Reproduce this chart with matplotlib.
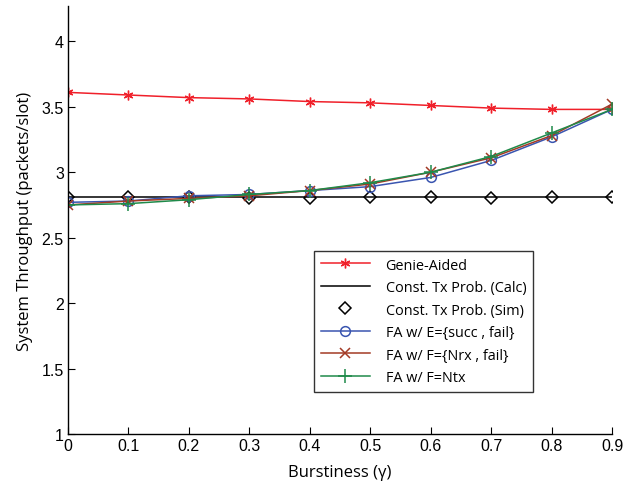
import matplotlib
matplotlib.use("Agg")
import matplotlib.pyplot as plt

gamma = [0, 0.1, 0.2, 0.3, 0.4, 0.5, 0.6, 0.7, 0.8, 0.9]
genie = [3.61, 3.59, 3.57, 3.56, 3.54, 3.53, 3.51, 3.49, 3.48, 3.48]
const_calc = [2.81, 2.81, 2.81, 2.81, 2.81, 2.81, 2.81, 2.81, 2.81, 2.81]
const_sim = [2.81, 2.81, 2.81, 2.80, 2.80, 2.81, 2.81, 2.80, 2.81, 2.81]
fa_succ_fail = [2.77, 2.78, 2.82, 2.83, 2.86, 2.89, 2.96, 3.09, 3.27, 3.48]
fa_nrx_fail = [2.75, 2.78, 2.80, 2.82, 2.86, 2.91, 3.00, 3.11, 3.28, 3.52]
fa_ntx = [2.75, 2.76, 2.79, 2.83, 2.86, 2.92, 3.00, 3.12, 3.30, 3.48]

labels = ["Genie-Aided", "Const. Tx Prob. (Calc)", "Const. Tx Prob. (Sim)",
          "FA w/ E={succ , fail}", "FA w/ F={Nrx , fail}", "FA w/ F=Ntx"]
yticks = [1, 1.5, 2, 2.5, 3, 3.5, 4]
ytick_labels = ["1", "1.5", "2", "2.5", "3", "3.5", "4"]
xtick_labels = ["0", "0.1", "0.2", "0.3", "0.4", "0.5", "0.6", "0.7", "0.8", "0.9"]

label_font = "Open Sans"
tick_font = "Liberation Sans"

W, H = 623, 489
fig = plt.figure(figsize=(W / 100, H / 100), dpi=100)
ax = fig.add_axes([68 / W, 1 - 435 / H, 544 / W, 428 / H])

red = "#f0202a"
blue = "#3a55b0"
brown = "#a33a25"
green = "#1f8a4a"

ax.plot(gamma, genie, color=red, marker=(6, 2, 0), markersize=7, lw=1.1, label=labels[0])
ax.plot(gamma, const_calc, color="black", lw=1.1, label=labels[1])
ax.plot(gamma, const_sim, ls="none", marker="D", markersize=6, mfc="none",
        mec="black", mew=1.1, label=labels[2])
ax.plot(gamma, fa_succ_fail, color=blue, marker="o", markersize=7, mfc="none",
        mew=1.1, lw=1.1, label=labels[3])
ax.plot(gamma, fa_nrx_fail, color=brown, marker="x", markersize=7, mew=1.1, lw=1.1,
        label=labels[4])
ax.plot(gamma, fa_ntx, color=green, marker="+", markersize=10, mew=1.1, lw=1.1,
        label=labels[5])

ax.set_xlim(0, 0.9)
ax.set_ylim(1, 4.27)
ax.set_xticks(gamma)
ax.set_xticklabels(xtick_labels, fontfamily=tick_font, fontsize=11.5)
ax.set_yticks(yticks)
ax.set_yticklabels(ytick_labels, fontfamily=tick_font, fontsize=11.5)
ax.tick_params(direction="in", length=5, width=0.8, pad=3)

ax.spines["top"].set_visible(False)
ax.spines["right"].set_visible(False)
ax.spines["left"].set_linewidth(1.0)
ax.spines["bottom"].set_linewidth(1.0)

ax.set_xlabel("Burstiness (\u03b3)", fontfamily=label_font, fontsize=12, labelpad=8)
ax.set_ylabel("System Throughput (packets/slot)", fontfamily=label_font, fontsize=12,
              labelpad=6)

leg = ax.legend(loc="upper left", bbox_to_anchor=((314 - 68) / 544, (435 - 252) / 428),
                prop={"family": label_font, "size": 10.4},
                frameon=True, fancybox=False, edgecolor="black", handlelength=3.4,
                borderaxespad=0, borderpad=0.45, labelspacing=0.52, handletextpad=1.1)
leg.get_frame().set_linewidth(1.0)

fig.savefig("out.png", dpi=100)
